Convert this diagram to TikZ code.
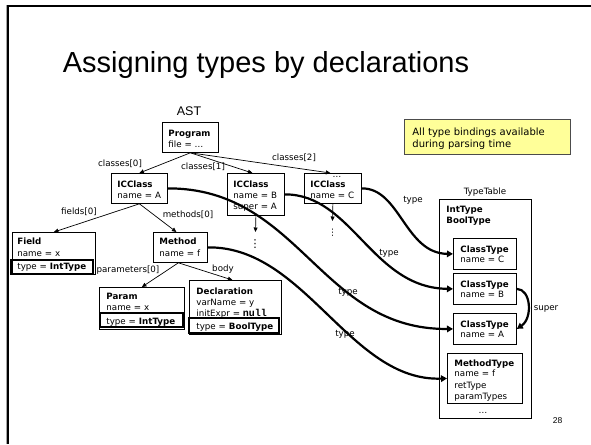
\documentclass[tikz,border=0pt]{standalone}
\usepackage{fontspec}
\setmainfont{DejaVu Sans}
\setmonofont{Liberation Mono}
\newfontfamily\headfont{Liberation Sans}
\usetikzlibrary{arrows.meta}
\definecolor{notefill}{HTML}{FFFF99}
\newcommand\boxfont{\fontsize{8.7}{11}\selectfont}
\newcommand\nullkw{{\fontsize{10}{11}\selectfont\ttfamily\bfseries null}}

\tikzset{
  box/.style={draw=black, line width=0.8pt, anchor=north west, inner xsep=6pt,
    inner ysep=0pt, align=left, font=\boxfont},
  lbl/.style={font=\boxfont, inner sep=0pt},
  link/.style={line width=0.7pt, -{Triangle[length=4.5pt,width=4pt]}},
  typelink/.style={line width=2.2pt, -{Triangle[length=6pt,width=6.5pt]}},
  typerow/.style={line width=1.6pt},
}

\begin{document}
\begin{tikzpicture}[x=1pt,y=-1pt]
\useasboundingbox (0,0) rectangle (591,444);

% slide frame
\draw[black!35, line width=1pt] (6.2,444) -- (6.2,5);
\draw[line width=2.4pt] (7.8,444) -- (7.8,5.8) -- (591,5.8);

% headings
\node[font=\headfont\fontsize{29}{34}\selectfont, anchor=base, inner sep=0pt] (title) at (266,72) {Assigning types by declarations};
\node[font=\headfont\fontsize{12.5}{14}\selectfont, anchor=base, inner sep=0pt] (ast) at (189,115.5) {AST};
\node[font=\headfont\fontsize{8.5}{10}\selectfont, anchor=base, inner sep=0pt] (pageno) at (557.5,423.5) {28};

% AST nodes
\node[box, text width=44pt, text height=14pt, text depth=16pt] (prog) at (162,122)
  {\textbf{Program}\\\mbox{file = …}};
\node[box, text width=44pt, text height=14pt, text depth=16pt] (icA) at (111,173)
  {\textbf{ICClass}\\\mbox{name = A}};
\node[box, text width=45pt, text height=14pt, text depth=28pt] (icB) at (227,173)
  {\textbf{ICClass}\\\mbox{name = B}\\\mbox{super = A}};
\node[box, text width=45pt, text height=14pt, text depth=16pt] (icC) at (304,173)
  {\textbf{ICClass}\\\mbox{name = C}};
\node[box, inner xsep=5pt, text width=73pt, text height=12pt, text depth=30pt] (field) at (12,232)
  {\textbf{Field}\\[1.5pt]\mbox{name = x}\\[1.5pt]\mbox{type = \textbf{IntType}}};
\node[box, text width=42pt, text height=12.5pt, text depth=17.5pt] (method) at (153,232)
  {\textbf{Method}\\[1pt]\mbox{name = f}};
\node[box, inner xsep=7pt, text width=71pt, text height=12pt, text depth=30pt] (param) at (99,287)
  {\textbf{Param}\\\mbox{name = x}\\[3pt]\mbox{type = \textbf{IntType}}};
\node[box, inner xsep=7pt, text width=78pt, text height=14pt, text depth=40pt] (decl) at (189,280)
  {\textbf{Declaration}\\\mbox{varName = y}\\\mbox{initExpr = \nullkw}\\[2pt]\mbox{type = \textbf{BoolType}}};

% highlighted type rows
\draw[typerow] (11,260) rectangle (93,274);
\draw[typerow] (100,313) rectangle (183,327);
\draw[typerow] (189,318) rectangle (279,333);

% type table
\node[lbl, anchor=base] (ttlabel) at (485,194.5) {TypeTable};
\node[box, inner xsep=7pt, text width=78pt, text height=13pt, text depth=206pt] (table) at (439,199)
  {\textbf{IntType}\\\textbf{BoolType}};
\node[box, inner xsep=7pt, text width=49pt, text height=14pt, text depth=17pt] (ctC) at (453,238)
  {\textbf{ClassType}\\[-1pt]\mbox{name = C}};
\node[box, inner xsep=7pt, text width=49pt, text height=14pt, text depth=17pt] (ctB) at (453,273)
  {\textbf{ClassType}\\[-1pt]\mbox{name = B}};
\node[box, inner xsep=7pt, text width=49pt, text height=14pt, text depth=17pt] (ctA) at (453,313)
  {\textbf{ClassType}\\[-1pt]\mbox{name = A}};
\node[box, inner xsep=7pt, text width=61pt, text height=13pt, text depth=37pt] (mt) at (447,353)
  {\textbf{MethodType}\\[-1pt]\mbox{name = f}\\[1pt]retType\\paramTypes};
\node[lbl, anchor=base] (ttdots) at (483,413) {…};

% note
\node[box, draw=black!70, fill=notefill, inner xsep=8pt, text width=150pt, text height=16pt,
  text depth=19pt, font=\fontsize{10}{12}\selectfont] (note) at (404,119)
  {All type bindings available\\during parsing time};

% child links
\coordinate (endB) at (255.5,232);
\coordinate (endC) at (332.5,221);
\draw[link] (prog.south) -- (icA.north);
\draw[link] (prog.south) -- ([xshift=-3.5pt]icB.north);
\draw[link] (prog.south) -- ([xshift=-2.5pt]icC.north);
\draw[link] (icA.south) -- (field.north);
\draw[link] (icA.south) -- ([xshift=-4pt]method.north);
\draw[link] ([xshift=-2pt]method.south) -- (param.north);
\draw[link] ([xshift=-2pt]method.south) -- ([xshift=-3pt]decl.north);
\draw[link] (icB.south) -- (endB);
\draw[link] (icC.south) -- (endC);
\node[lbl, anchor=base, font=\fontsize{11}{12}\selectfont] (moreB) at (255,247) {⋮};
\node[lbl, anchor=base, font=\fontsize{9}{10}\selectfont] (moreC) at (332.5,235.5) {⋮};
\node[lbl, anchor=base] (dotsC) at (337,177) {…};

\node[lbl] (l0) at (120,164) {classes[0]};
\node[lbl] (l1) at (203,167) {classes[1]};
\node[lbl] (l2) at (294,158) {classes[2]};
\node[lbl] (lf) at (79,212) {fields[0]};
\node[lbl] (lm) at (188,215) {methods[0]};
\node[lbl] (lp) at (128,270) {parameters[0]};
\node[lbl] (lb) at (223,269) {body};

% type bindings
\draw[typelink] (icC.east) .. controls (400,188) and (405,253.5) .. (ctC.west);
\draw[typelink] (icB.east) .. controls (352,194) and (372,288) .. (ctB.west);
\draw[typelink] (icA.east) .. controls (300,188) and (320,330) .. (ctA.west);
\draw[typelink] (method.east) .. controls (305,246) and (350,382) .. (mt.west);
\draw[typelink] (ctB.east) .. controls (531,289) and (533,318) .. (ctA.east);

\node[lbl] (t1) at (413,200) {type};
\node[lbl] (t2) at (389,253) {type};
\node[lbl] (t3) at (348,292) {type};
\node[lbl] (t4) at (345,334) {type};
\node[lbl] (ls) at (546,309) {super};
\end{tikzpicture}
\end{document}
